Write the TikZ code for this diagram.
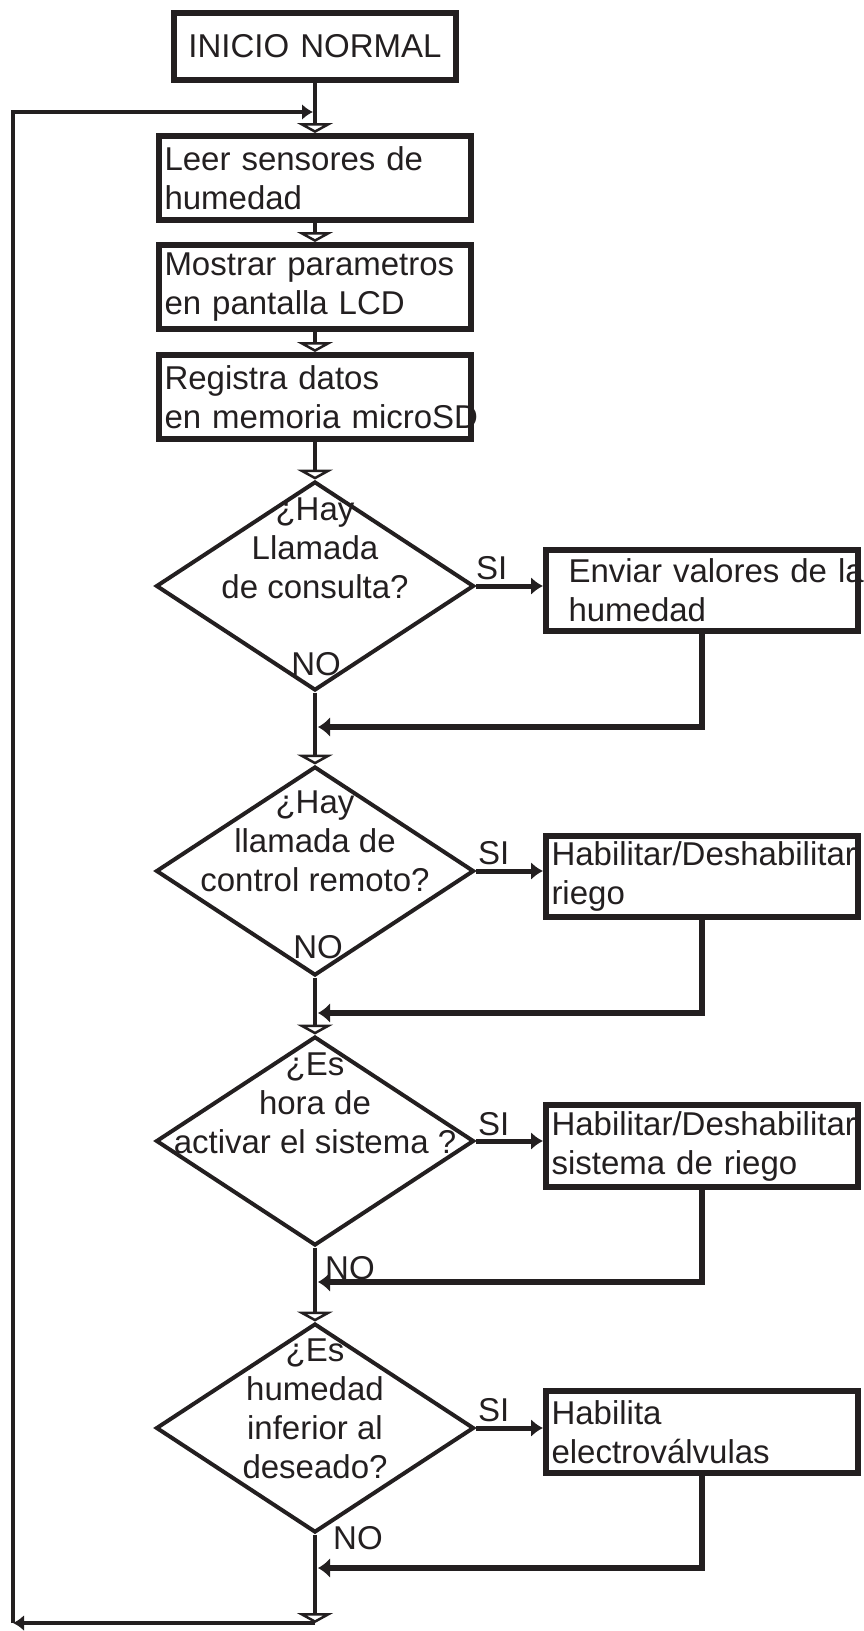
\documentclass[tikz,border=0pt]{standalone}
\usepackage{fontspec}
\setmainfont{Liberation Sans}
\usetikzlibrary{arrows.meta,shapes.geometric}
\definecolor{ink}{RGB}{35,31,32}
\begin{document}
\begin{tikzpicture}[x=1pt,y=-1pt,line join=miter,
  txt/.style={font=\fontsize{33}{39}\selectfont, text=ink},
  box/.style={txt, draw=ink, line width=6pt, rectangle, minimum width=312pt, minimum height=84pt, text width=301pt, align=left, inner sep=0pt},
  dec/.style={draw=ink, line width=4pt, shape=diamond, minimum width=318pt, minimum height=209pt, inner sep=0pt},
  dtext/.style={txt, align=center, inner sep=0pt, anchor=base},
  lbl/.style={txt, inner sep=0pt},
  flow/.style={draw=ink, line width=4.5pt, -{Triangle[open, width=36pt, length=10pt, line width=3pt]}},
  side/.style={draw=ink, line width=5pt, -{Latex[length=12pt, width=18pt]}},
  back/.style={draw=ink, line width=5.5pt, -{Latex[length=12pt, width=20pt]}},
  loopline/.style={draw=ink, line width=3.5pt},
  looptip/.style={-{Latex[length=11pt, width=16pt]}},
]
\useasboundingbox (0,0) rectangle (863,1631);

% left column boxes
\node[box, text width=270pt, align=center, minimum width=282pt, minimum height=67pt] (inicio) at (315,46.5) {INICIO NORMAL};
\node[box] (leer) at (315,178) {\mbox{Leer sensores de}\\\mbox{humedad}};
\node[box] (mostrar) at (315,287) {\mbox{Mostrar parametros}\\\mbox{en pantalla LCD}};
\node[box] (registra) at (315,397) {\mbox{Registra datos}\\\mbox{en memoria microSD}};

% decisions (text anchored at the baseline of its last line)
\node[dec] (d1) at (315,586) {};
\node[dtext] (t1) at (315,598) {¿Hay\\Llamada\\de consulta?};
\node[dec] (d2) at (315,871) {};
\node[dtext] (t2) at (315,891) {¿Hay\\llamada de\\control remoto?};
\node[dec] (d3) at (315,1141) {};
\node[dtext] (t3) at (315,1153) {¿Es\\hora de\\activar el sistema ?};
\node[dec] (d4) at (315,1428) {};
\node[dtext] (t4) at (315,1478) {¿Es\\humedad\\inferior al\\deseado?};

% right boxes
\node[box, minimum height=81pt] (b1) at (702,590) {\mbox{\hspace*{17pt}Enviar valores de la}\\\mbox{\hspace*{17pt}humedad}};
\node[box, minimum height=81pt] (b2) at (702,876.5) {\mbox{Habilitar/Deshabilitar}\\\mbox{riego}};
\node[box, minimum height=82pt] (b3) at (702,1146) {\mbox{Habilitar/Deshabilitar}\\\mbox{sistema de riego}};
\node[box, minimum height=82pt] (b4) at (702,1432) {\mbox{Habilita}\\\mbox{electroválvulas}};

% labels
\node[lbl, anchor=base west] (si1) at (476,579) {SI};
\node[lbl, anchor=base west] (si2) at (478,864) {SI};
\node[lbl, anchor=base west] (si3) at (478,1135) {SI};
\node[lbl, anchor=base west] (si4) at (478,1421) {SI};
\node[lbl, anchor=base] (no1) at (316,675) {NO};
\node[lbl, anchor=base] (no2) at (318,958) {NO};
\node[lbl, anchor=base west] (no3) at (325,1279) {NO};
\node[lbl, anchor=base west] (no4) at (333,1549) {NO};

% coordinates
\coordinate (r1) at (318,727);
\coordinate (r2) at (318,1013);
\coordinate (r3) at (318,1282);
\coordinate (r4) at (318,1568);
\coordinate (cB) at (315,1623);
\coordinate (cL) at (13,1623);
\coordinate (cT) at (13,112);
\coordinate (cA) at (313,112);

% main flow
\draw[flow] (inicio) -- (leer);
\draw[flow] (leer) -- (mostrar);
\draw[flow] (mostrar) -- (registra);
\draw[flow] (registra) -- (d1);
\draw[flow] (d1) -- (d2);
\draw[flow] (d2) -- (d3);
\draw[flow] (d3) -- (d4);
\draw[flow] (d4) -- (cB);

% yes branches
\draw[side] (d1.east) -- (d1.east -| b1.west);
\draw[side] (d2.east) -- (d2.east -| b2.west);
\draw[side] (d3.east) -- (d3.east -| b3.west);
\draw[side] (d4.east) -- (d4.east -| b4.west);

% returns
\draw[back] (b1.south) |- (r1);
\draw[back] (b2.south) |- (r2);
\draw[back] (b3.south) |- (r3);
\draw[back] (b4.south) |- (r4);

% loop back
\draw[loopline, looptip] (cB) -- (cL);
\draw[loopline, looptip] (cL) -- (cT) -- (cA);
\end{tikzpicture}
\end{document}
